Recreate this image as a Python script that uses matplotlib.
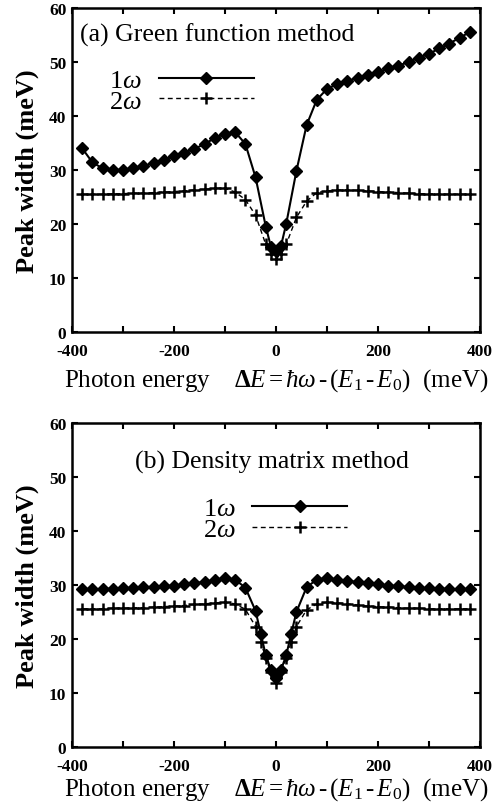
import matplotlib
matplotlib.use("Agg")
import matplotlib.pyplot as plt
from matplotlib.ticker import MultipleLocator

plt.rcParams["font.family"] = ["Liberation Serif", "DejaVu Serif"]
plt.rcParams["mathtext.fontset"] = "custom"
plt.rcParams["mathtext.rm"] = "Liberation Serif"
plt.rcParams["mathtext.it"] = "Liberation Serif:italic"
plt.rcParams["mathtext.bf"] = "Liberation Serif:bold"
plt.rcParams["axes.unicode_minus"] = False

# (a) Green function method
xa = [-380, -360, -340, -320, -300, -280, -260, -240, -220, -200, -180, -160, -140,
      -120, -100, -80, -60, -40, -20, -10, 0, 10, 20, 40, 60, 80, 100, 120, 140, 160,
      180, 200, 220, 240, 260, 280, 300, 320, 340, 360, 380]
a_1w = [34.0, 31.4, 30.3, 30.0, 30.0, 30.3, 30.7, 31.3, 31.9, 32.5, 33.2, 33.9, 34.8,
        35.9, 36.7, 37.0, 34.8, 28.6, 19.5, 15.8, 15.0, 16.0, 20.0, 29.8, 38.3, 43.0,
        45.0, 45.9, 46.5, 47.0, 47.5, 48.1, 48.8, 49.3, 50.0, 50.8, 51.5, 52.5, 53.4,
        54.5, 55.5]
a_2w = [25.5, 25.5, 25.5, 25.6, 25.6, 25.7, 25.7, 25.8, 25.9, 26.0, 26.1, 26.3, 26.4,
        26.6, 26.6, 25.9, 24.5, 21.6, 16.2, 14.5, 13.5, 14.5, 16.2, 21.2, 24.2, 25.8,
        26.1, 26.3, 26.3, 26.2, 26.1, 26.0, 25.9, 25.8, 25.7, 25.6, 25.6, 25.5, 25.5,
        25.5, 25.5]

# (b) Density matrix method
xb = [-380, -360, -340, -320, -300, -280, -260, -240, -220, -200, -180, -160, -140,
      -120, -100, -80, -60, -40, -30, -20, -10, 0, 10, 20, 30, 40, 60, 80, 100, 120,
      140, 160, 180, 200, 220, 240, 260, 280, 300, 320, 340, 360, 380]
b_1w = [29.2, 29.2, 29.3, 29.3, 29.4, 29.5, 29.6, 29.7, 29.8, 29.9, 30.1, 30.3, 30.6,
        30.9, 31.3, 31.0, 29.5, 25.2, 21.0, 17.0, 14.3, 12.8, 14.3, 17.0, 21.0, 25.0,
        29.6, 31.0, 31.3, 31.0, 30.8, 30.5, 30.3, 30.1, 29.9, 29.8, 29.6, 29.5, 29.4,
        29.3, 29.3, 29.2, 29.2]
b_2w = [25.6, 25.6, 25.6, 25.7, 25.7, 25.8, 25.8, 25.9, 26.0, 26.1, 26.2, 26.4, 26.5,
        26.7, 26.8, 26.5, 25.5, 22.3, 19.5, 16.5, 13.8, 11.8, 13.8, 16.5, 19.5, 22.3,
        25.4, 26.5, 26.8, 26.7, 26.5, 26.3, 26.1, 26.0, 25.9, 25.8, 25.7, 25.7, 25.6,
        25.6, 25.6, 25.6, 25.6]

xlabel = (r"Photon energy    $\mathbf{\Delta}E\,$=$\,\hbar\omega\,$-$\,$($E_1\,$-$\,E_0$)"
          r"  (meV)")

fig = plt.figure(figsize=(4.94, 8.12), dpi=100)
ax1 = fig.add_axes([0.1457, 0.5900, 0.826, 0.3990])
ax2 = fig.add_axes([0.1457, 0.0788, 0.826, 0.399])


def draw(ax, x, y1, y2, title, title_xy, title_ha, leg_anchor, xlabelpad):
    ax.plot(x, y1, "-", color="black", lw=1.5, marker="D", ms=6.5, label=r"1$\omega$")
    ax.plot(x, y2, "--", color="black", lw=1.0, dashes=(3.5, 2.5), marker="+", ms=9,
            mew=1.8, label=r"2$\omega$")
    ax.set_xlim(-400, 400)
    ax.set_ylim(0, 60)
    ax.xaxis.set_major_locator(MultipleLocator(200))
    ax.xaxis.set_minor_locator(MultipleLocator(100))
    ax.yaxis.set_major_locator(MultipleLocator(10))
    ax.tick_params(which="both", direction="in", top=True, right=True, width=1.5)
    ax.tick_params(which="major", length=4, labelsize=12.5)
    ax.tick_params(which="minor", length=4)
    ax.tick_params(axis="x", pad=8)
    ax.tick_params(axis="y", pad=4)
    for lab in ax.get_xticklabels() + ax.get_yticklabels():
        lab.set_fontweight("bold")
    for s in ax.spines.values():
        s.set_linewidth(1.8)
    ax.set_ylabel("Peak width (meV)", fontsize=19, fontweight="bold", labelpad=7)
    ax.set_xlabel(xlabel, fontsize=18, labelpad=xlabelpad)
    ax.text(title_xy[0], title_xy[1], title, transform=ax.transAxes, fontsize=18.5,
            ha=title_ha, va="center")
    ax.legend(loc="center left", bbox_to_anchor=leg_anchor, frameon=False,
              markerfirst=False, handlelength=3.6, numpoints=1, fontsize=19,
              labelspacing=-0.1, handletextpad=0.65, borderaxespad=0,
              borderpad=0)


draw(ax1, xa, a_1w, a_2w, "(a) Green function method", (0.02, 0.92), "left",
     (0.09, 0.745), 5)
draw(ax2, xb, b_1w, b_2w, "(b) Density matrix method", (0.49, 0.88), "center",
     (0.32, 0.705), 1)

fig.savefig("out.png", dpi=100)
